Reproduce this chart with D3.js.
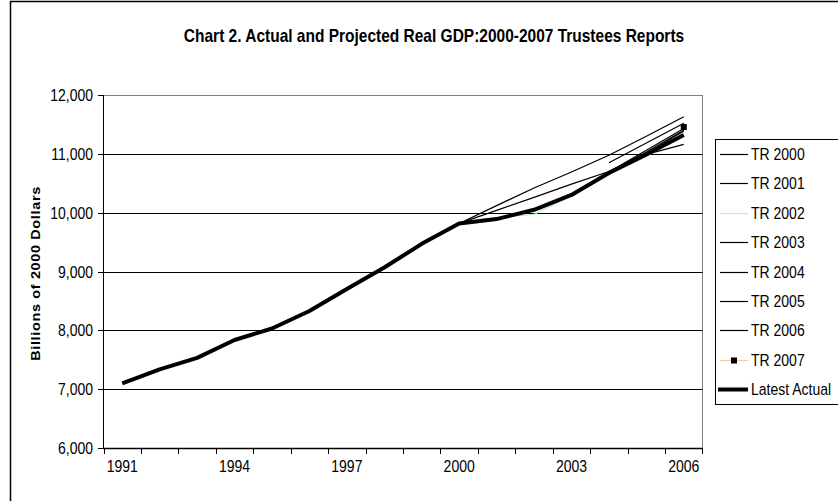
<!DOCTYPE html>
<html>
<head>
<meta charset="utf-8">
<script src="https://cdn.jsdelivr.net/npm/d3@7"></script>
<style>
  html, body { margin: 0; padding: 0; background: #fff; }
  svg { display: block; font-family: "Liberation Sans", Arial, sans-serif; }
</style>
</head>
<body>
<svg id="chart" width="838" height="501"></svg>
<script>
// Categories (years) and tick labels
const years = [1991, 1992, 1993, 1994, 1995, 1996, 1997, 1998, 1999, 2000, 2001, 2002, 2003, 2004, 2005, 2006];
const yearLabels = [1991, 1994, 1997, 2000, 2003, 2006];
const gdpTicks = [6000, 7000, 8000, 9000, 10000, 11000, 12000];

// Real GDP, billions of 2000 dollars
const latestActual = [7100.5, 7336.6, 7532.7, 7835.5, 8031.7, 8328.9, 8703.5, 9066.9, 9470.3, 9817.0, 9890.7, 10048.8, 10301.0, 10675.8, 10989.5, 11319.4];

// Trustees Report projections, 2000-2006 (null = no value for that year)
const projYears = [2000, 2001, 2002, 2003, 2004, 2005, 2006];
const tr2000 = [9817, 10120, 10420, 10690, 10975, 11300, 11630];
const tr2001 = [9817, 10040, 10260, 10485, 10700, 10990, 11160];
const tr2002 = [9817, 9920, 9970, 10290, 10650, 10950, 11360];
const tr2003 = [null, null, 10050, 10320, 10690, 11030, 11400];
const tr2004 = [null, null, null, 10300, 10690, 11060, 11430];
const tr2005 = [null, null, null, null, 10850, 11185, 11520];
const tr2006 = [null, null, null, null, null, 11000, 11390];
const tr2007 = [null, null, null, null, null, null, 11455];

const seriesNames = ["TR 2000", "TR 2001", "TR 2002", "TR 2003", "TR 2004", "TR 2005", "TR 2006", "TR 2007", "Latest Actual"];

const svg = d3.select("#chart");
const K = 1.15; // tall glyph proportions

function label(g, x, y, txt, opts) {
  const t = g.append("text")
    .attr("transform", `translate(${x},${y}) scale(1,${K})`)
    .attr("font-size", opts.size || 14)
    .attr("font-weight", opts.weight || "normal")
    .attr("text-anchor", opts.anchor || "start")
    .attr("dominant-baseline", "central")
    .attr("fill", "#000")
    .text(txt);
  return t;
}

// outer chart frame
svg.append("rect")
  .attr("x", 10.5).attr("y", 1.5)
  .attr("width", 1000).attr("height", 1000)
  .attr("fill", "#fff").attr("stroke", "#000").attr("stroke-width", 1.5);

const x = d3.scaleBand().domain(years).range([103.5, 702.5]).padding(0);
const y = d3.scaleLinear().domain([6000, 12000]).range([448, 95]);
const cx = d => x(d) + x.bandwidth() / 2;

// title
label(svg, 434, 36, "Chart 2. Actual and Projected Real GDP:2000-2007 Trustees Reports", { size: 15.5, weight: "bold", anchor: "middle" });

// plot area with gridlines
const plot = svg.append("g");
plot.append("rect")
  .attr("x", 103.5).attr("y", Math.round(y(12000)) + 0.5)
  .attr("width", 702.5 - 103.5).attr("height", y(6000) - y(12000))
  .attr("fill", "#fff").attr("stroke", "#808080").attr("stroke-width", 1);

plot.selectAll("line.grid")
  .data(gdpTicks.filter(v => v > 6000 && v < 12000))
  .join("line")
  .attr("class", "grid")
  .attr("x1", 103.5).attr("x2", 702.5)
  .attr("y1", d => Math.round(y(d)) + 0.5).attr("y2", d => Math.round(y(d)) + 0.5)
  .attr("stroke", "#000").attr("stroke-width", 1);

// y axis
const yAxis = svg.append("g");
yAxis.append("line")
  .attr("x1", 103.5).attr("x2", 103.5)
  .attr("y1", y(12000)).attr("y2", y(6000) + 0.5)
  .attr("stroke", "#000");
gdpTicks.forEach(v => {
  const yy = Math.round(y(v)) + 0.5;
  yAxis.append("line").attr("x1", 98).attr("x2", 103.5).attr("y1", yy).attr("y2", yy).attr("stroke", "#000");
  label(yAxis, 93, yy, d3.format(",")(v), { size: 14, anchor: "end" });
});

// x axis
const xAxis = svg.append("g");
xAxis.append("line")
  .attr("x1", 103.5).attr("x2", 702.5)
  .attr("y1", Math.round(y(6000)) + 0.5).attr("y2", Math.round(y(6000)) + 0.5)
  .attr("stroke", "#000").attr("stroke-width", 1.5);
years.concat([null]).forEach((yr, i) => {
  const xx = yr === null ? x.range()[1] : Math.round(x(yr)) + 0.5;
  xAxis.append("line").attr("x1", xx).attr("x2", xx)
    .attr("y1", y(6000)).attr("y2", y(6000) + 6).attr("stroke", "#000");
});
yearLabels.forEach(yr => label(xAxis, cx(yr), 466, String(yr), { size: 14, anchor: "middle" }));

// y axis title
svg.append("text")
  .attr("transform", `translate(36,${(y(6000) + y(12000)) / 2 + 2}) rotate(-90) scale(${K},1)`)
  .attr("font-size", 12.5)
  .attr("font-weight", "bold")
  .attr("letter-spacing", 0.6)
  .attr("text-anchor", "middle")
  .attr("dominant-baseline", "central")
  .text("Billions of 2000 Dollars");

// series lines
const line = d3.line()
  .defined(d => d.v !== null)
  .x(d => cx(d.yr))
  .y(d => y(d.v));

const projections = [
  { name: "TR 2000", values: tr2000, color: "#000" },
  { name: "TR 2001", values: tr2001, color: "#000" },
  { name: "TR 2002", values: tr2002, color: "#b8f0b8" },
  { name: "TR 2003", values: tr2003, color: "#000" },
  { name: "TR 2004", values: tr2004, color: "#000" },
  { name: "TR 2005", values: tr2005, color: "#000" },
  { name: "TR 2006", values: tr2006, color: "#000" },
  { name: "TR 2007", values: tr2007, color: "#ffcc99", marker: true }
];

const lines = svg.append("g");
projections.forEach(s => {
  const pts = projYears.map((yr, i) => ({ yr, v: s.values[i] }));
  lines.append("path")
    .datum(pts)
    .attr("fill", "none")
    .attr("stroke", s.color)
    .attr("stroke-width", 1.2)
    .attr("d", line);
  if (s.marker) {
    lines.selectAll(null)
      .data(pts.filter(p => p.v !== null))
      .join("rect")
      .attr("x", d => cx(d.yr) - 3).attr("y", d => y(d.v) - 3)
      .attr("width", 6).attr("height", 6)
      .attr("fill", "#000");
  }
});

lines.append("path")
  .datum(years.map((yr, i) => ({ yr, v: latestActual[i] })))
  .attr("fill", "none")
  .attr("stroke", "#000")
  .attr("stroke-width", 4)
  .attr("stroke-linejoin", "round")
  .attr("d", line);

// legend
const legend = svg.append("g");
legend.append("rect")
  .attr("x", 715.5).attr("y", 139.5)
  .attr("width", 200).attr("height", 265)
  .attr("fill", "#fff").attr("stroke", "#000");

const legendStyles = projections.concat([{ name: "Latest Actual", color: "#000", thick: true }]);
seriesNames.forEach((name, i) => {
  const s = legendStyles.find(d => d.name === name);
  const ly = Math.round(154 + i * 29.4) + 0.5;
  legend.append("line")
    .attr("x1", s.thick ? 718 : 720).attr("x2", 748)
    .attr("y1", ly).attr("y2", ly)
    .attr("stroke", s.color)
    .attr("stroke-width", s.thick ? 4 : 1.2);
  if (s.marker) {
    legend.append("rect").attr("x", 731).attr("y", ly - 3).attr("width", 6).attr("height", 6).attr("fill", "#000");
  }
  label(legend, 751, ly, name, { size: 14 });
});
</script>
</body>
</html>
